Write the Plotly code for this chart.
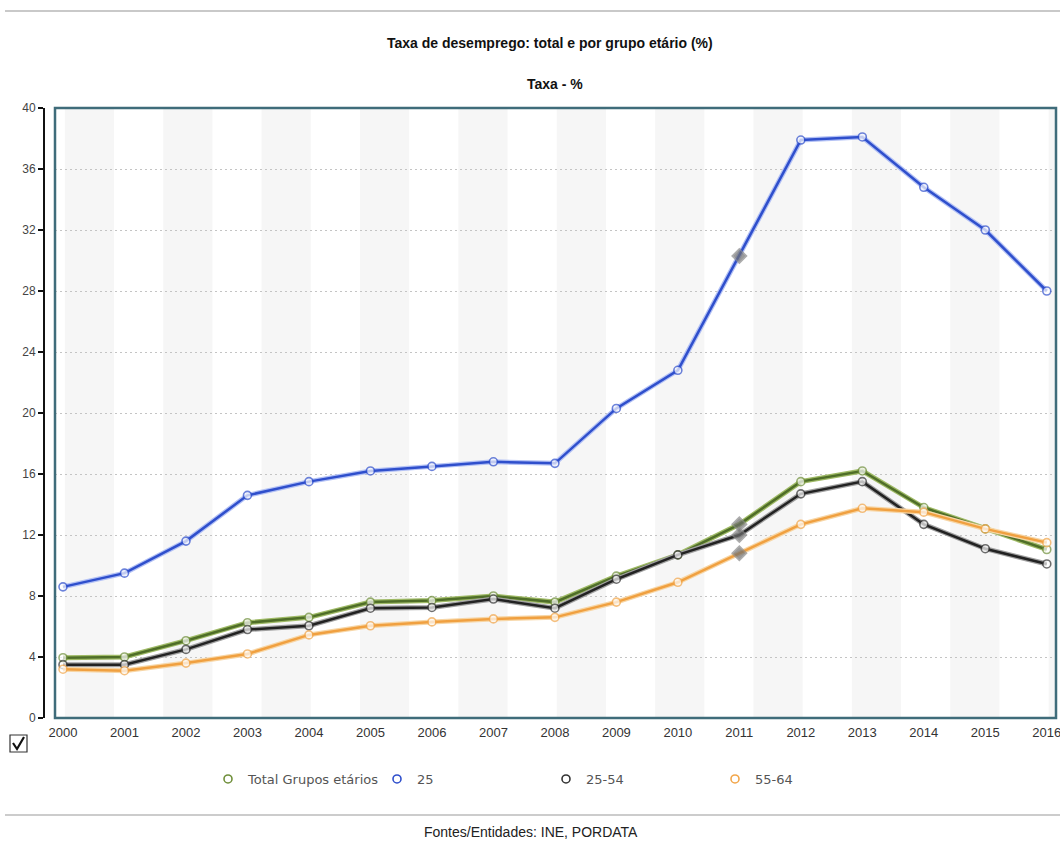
import plotly.graph_objects as go

years = list(range(2000, 2017))
total = [3.95, 4.0, 5.07, 6.25, 6.6, 7.6, 7.7, 8.0, 7.6, 9.3, 10.7, 12.7, 15.5, 16.2, 13.8, 12.4, 11.05]
menos25 = [8.6, 9.5, 11.6, 14.6, 15.5, 16.2, 16.5, 16.8, 16.7, 20.3, 22.8, 30.3, 37.9, 38.1, 34.8, 32.0, 28.0]
g25_54 = [3.5, 3.5, 4.5, 5.8, 6.05, 7.2, 7.25, 7.8, 7.2, 9.1, 10.7, 12.0, 14.7, 15.5, 12.7, 11.1, 10.1]
g55_64 = [3.2, 3.1, 3.6, 4.2, 5.45, 6.05, 6.3, 6.5, 6.6, 7.6, 8.9, 10.8, 12.7, 13.75, 13.5, 12.4, 11.5]
y_ticks = [0, 4, 8, 12, 16, 20, 24, 28, 32, 36, 40]
highlight_year = 2011

series = [
    ("Total Grupos etários", total, "#6f8f3a", "#4f6e28", "#9fba66"),
    ("25", menos25, "#2f4fcc", "#2f4fcc", "#b3c1f5"),
    ("25-54", g25_54, "#333333", "#222222", "#a0a0a0"),
    ("55-64", g55_64, "#f2a64a", "#f0a040", "#f7d6a6"),
]

W, H = 1060, 843
x0p, x1p = 55 / W, 1056 / W
y0p, y1p = 1 - 718 / H, 1 - 108 / H
TFONT = "Liberation Sans Narrow, Arial Narrow, Liberation Sans, Arial"

fig = go.Figure()
for name, vals, mcol, core, halo in series:
    sym = ["diamond" if y == highlight_year else "circle" for y in years]
    fcol = ["#707070" if y == highlight_year else "white" for y in years]
    lcol = ["#8a8a8a" if y == highlight_year else mcol for y in years]
    size = [11 if y == highlight_year else 8 for y in years]
    fig.add_trace(go.Scatter(x=years, y=vals, mode="lines", showlegend=False,
                             line=dict(color=halo, width=5), hoverinfo="skip"))
    fig.add_trace(go.Scatter(x=years, y=vals, mode="lines+markers", name=name, showlegend=False,
                             line=dict(color=core, width=2.5),
                             marker=dict(symbol=sym, color=fcol, size=size,
                                         line=dict(color=lcol, width=1.6))))
for name, vals, mcol, core, halo in series:
    fig.add_trace(go.Scatter(x=[None], y=[None], mode="markers", name=name,
                             marker=dict(symbol="circle", color="white", size=8,
                                         line=dict(color=mcol, width=1.6))))

shapes = []
# alternate background bands
k = 0
while 2000.03 + 1.6 * k < 2016.1:
    a = 2000.03 + 1.6 * k
    shapes.append(dict(type="rect", xref="x", yref="y domain", x0=a, x1=a + 0.8, y0=0, y1=1,
                       fillcolor="#f6f6f6", line=dict(width=0), layer="below"))
    k += 1
# plot frame
shapes.append(dict(type="rect", xref="x domain", yref="y domain", x0=0, x1=1, y0=0, y1=1,
                   line=dict(color="#3f6c7a", width=2.5), fillcolor="rgba(0,0,0,0)", layer="above"))
# top and bottom separators
shapes.append(dict(type="line", xref="paper", yref="paper", x0=5 / W, x1=1, y0=1 - 11 / H, y1=1 - 11 / H,
                   line=dict(color="#c9c9c9", width=2)))
shapes.append(dict(type="line", xref="paper", yref="paper", x0=5 / W, x1=1, y0=1 - 815 / H, y1=1 - 815 / H,
                   line=dict(color="#cccccc", width=2)))
# checkbox
shapes.append(dict(type="rect", xref="paper", yref="paper", x0=10 / W, x1=27 / W,
                   y0=1 - 752 / H, y1=1 - 735 / H, line=dict(color="#333333", width=1.2),
                   fillcolor="white"))
def P(px, py):
    return f"{px / W},{1 - py / H}"
shapes.append(dict(type="path", xref="paper", yref="paper",
                   path=f"M{P(13, 743)} L{P(17, 749)} L{P(24, 737)}",
                   line=dict(color="#111111", width=2.2)))

annotations = [
    dict(text="<b>Taxa de desemprego: total e por grupo etário (%)</b>", x=550 / W, y=1 - 43 / H,
         xref="paper", yref="paper", showarrow=False, yanchor="middle",
         font=dict(family=TFONT, size=14, color="#111111")),
    dict(text="<b>Taxa - %</b>", x=555 / W, y=1 - 84 / H, xref="paper", yref="paper", showarrow=False,
         yanchor="middle", font=dict(family=TFONT, size=14, color="#111111")),
    dict(text="Fontes/Entidades: INE, PORDATA", x=531 / W, y=1 - 832 / H, xref="paper", yref="paper",
         showarrow=False, yanchor="middle", font=dict(family=TFONT, size=14, color="#222222")),
]

fig.update_layout(
    width=W, height=H, margin=dict(l=0, r=0, t=0, b=0),
    paper_bgcolor="white", plot_bgcolor="white",
    shapes=shapes, annotations=annotations,
    xaxis=dict(domain=[x0p, x1p], range=[1999.87, 2016.15], tickmode="array", tickvals=years,
               ticktext=[str(y) for y in years], showgrid=False, zeroline=False, showline=False,
               ticks="outside", ticklen=2, tickcolor="rgba(0,0,0,0)", ticklabeloverflow="allow",
               tickfont=dict(family=TFONT, size=13, color="#333333"),
               automargin=False, fixedrange=True),
    yaxis=dict(domain=[y0p, y1p], range=[0, 40], anchor="free", position=44 / W,
               tickmode="array", tickvals=y_ticks, showline=True, linecolor="#111111", linewidth=2,
               ticks="outside", ticklen=5, tickwidth=2, tickcolor="#111111",
               showgrid=True, gridcolor="#c4c4c4", griddash="2px,3px", gridwidth=1, zeroline=False,
               tickfont=dict(family="Liberation Sans", size=12, color="#444444"),
               automargin=False, fixedrange=True),
    legend=dict(orientation="h", x=208 / W, y=1 - 779 / H, xanchor="left", yanchor="middle",
                entrywidth=124, entrywidthmode="pixels",
                font=dict(family="DejaVu Sans", size=13, color="#555555"),
                bgcolor="rgba(0,0,0,0)", itemclick=False, itemdoubleclick=False),
    showlegend=True,
)

fig.write_html("out.html")
